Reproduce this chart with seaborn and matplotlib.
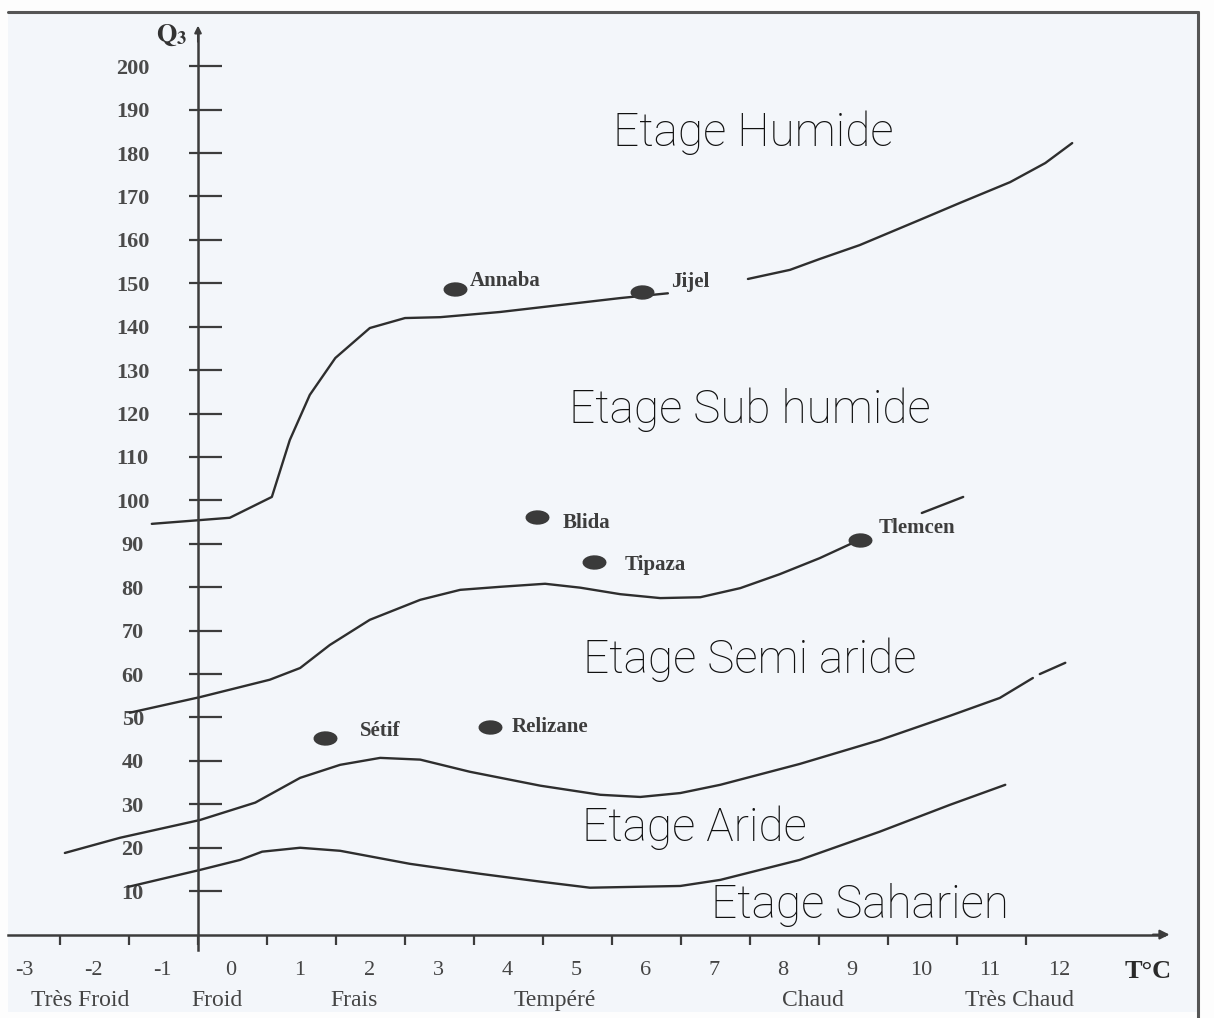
import numpy as np
import pandas as pd
import seaborn as sns
import matplotlib.pyplot as plt
from matplotlib.lines import Line2D
from matplotlib.patches import Rectangle

humide_a_m = [-0.67, 0.46, 1.07, 1.33, 1.62, 1.99, 2.49, 3.0, 3.51, 4.38, 5.25, 6.12, 6.81]
humide_a_q = [94.6, 96.0, 100.8, 113.9, 124.3, 132.8, 139.7, 142.0, 142.2, 143.4, 145.0, 146.6, 147.7]
humide_b_m = [7.97, 8.58, 9.01, 9.59, 10.46, 11.04, 11.77, 12.28, 12.67]
humide_b_q = [151.0, 153.1, 155.6, 158.8, 164.6, 168.5, 173.3, 177.7, 182.3]

subhum_a_m = [-0.99, 0.03, 1.04, 1.48, 1.91, 2.49, 3.22, 3.80, 4.38, 5.03, 5.54, 6.12, 6.70, 7.28, 7.86, 8.43, 9.01, 9.57]
subhum_a_q = [51.1, 54.7, 58.7, 61.4, 66.7, 72.5, 77.1, 79.4, 80.1, 80.8, 79.9, 78.4, 77.5, 77.7, 79.8, 83.0, 86.7, 90.8]
subhum_b_m = [10.49, 11.09]
subhum_b_q = [97.1, 100.8]

semi_a_m = [-1.93, -1.13, 0.03, 0.83, 1.48, 2.06, 2.64, 3.22, 3.94, 4.96, 5.83, 6.41, 6.99, 7.57, 8.72, 9.88, 10.90, 11.62, 12.10]
semi_a_q = [18.8, 22.3, 26.4, 30.4, 36.1, 39.1, 40.7, 40.3, 37.5, 34.3, 32.2, 31.7, 32.6, 34.5, 39.3, 44.8, 50.4, 54.5, 59.1]
semi_b_m = [12.2, 12.57]
semi_b_q = [60.0, 62.6]

aride_m = [-1.01, 0.03, 0.61, 0.93, 1.48, 2.06, 3.07, 4.09, 4.96, 5.68, 6.99, 7.57, 8.72, 9.88, 10.90, 11.70]
aride_q = [11.0, 14.9, 17.2, 19.1, 20.0, 19.3, 16.3, 14.0, 12.2, 10.8, 11.2, 12.6, 17.2, 23.7, 29.9, 34.5]

# stations
villes = ["Annaba", "Jijel", "Blida", "Tipaza", "Tlemcen", "Sétif", "Relizane"]
villes_m = [3.72, 6.43, 4.91, 5.74, 9.59, 1.84, 4.23]
villes_q = [148.7, 148.0, 96.2, 85.8, 90.9, 45.3, 47.8]
etiq_m = [3.94, 6.86, 5.28, 6.19, 9.86, 2.35, 4.55]
etiq_q = [150.5, 150.2, 94.8, 85.1, 93.6, 46.9, 47.8]

etages = ["Etage Humide", "Etage Sub humide", "Etage Semi aride", "Etage Aride", "Etage Saharien"]
etages_m = [8.04, 8.0, 8.0, 7.19, 9.6]
etages_q = [184.6, 120.8, 63.2, 24.6, 6.8]

y_ticks = list(range(10, 210, 10))
x_ticks = list(range(-2, 13))
x_labels = ["-3", "-2", "-1", "0", "1", "2", "3", "4", "5", "6", "7", "8", "9", "10", "11", "12"]
classes = ["Très Froid", "Froid", "Frais", "Tempéré", "Chaud", "Très Chaud"]
classes_m = [-1.71, 0.28, 2.26, 5.17, 8.91, 11.91]

segments = [
    (humide_a_m, humide_a_q), (humide_b_m, humide_b_q),
    (subhum_a_m, subhum_a_q), (subhum_b_m, subhum_b_q),
    (semi_a_m, semi_a_q), (semi_b_m, semi_b_q),
    (aride_m, aride_q),
]
rows = []
for i, (ms, qs) in enumerate(segments):
    for m, q in zip(ms, qs):
        rows.append({"seg": i, "m": m, "q": q})
df = pd.DataFrame(rows)
df_villes = pd.DataFrame({"ville": villes, "m": villes_m, "q": villes_q})

sns.set_style("white")
plt.rcParams["font.family"] = ["Liberation Serif", "DejaVu Serif"]

fig = plt.figure(figsize=(12.14, 10.18), dpi=100)
fig.patch.set_facecolor("#fdfdfd")
# fond du scan + cadre
fig.add_artist(Rectangle((8 / 1214, 6 / 1018), 1190 / 1214, 1000 / 1018,
                         transform=fig.transFigure, facecolor="#f3f6fa", edgecolor="none", zorder=-2))
fig.add_artist(Line2D([8 / 1214, 1198 / 1214], [1 - 12 / 1018, 1 - 12 / 1018],
                      transform=fig.transFigure, color="#555555", lw=2.2))
fig.add_artist(Line2D([1198 / 1214, 1198 / 1214], [0, 1 - 12 / 1018],
                      transform=fig.transFigure, color="#555555", lw=2.2))

ax = fig.add_axes([0, 0, 1, 1])
ax.set_facecolor("none")
ax.set_xlim(-2.870, 14.725)
ax.set_ylim(-19.21, 215.25)

ink = "#2e2e2e"
sns.lineplot(data=df, x="m", y="q", units="seg", estimator=None, sort=False,
             color=ink, lw=1.7, ax=ax, legend=False)

# marqueur en forme de tache
t = np.linspace(0, 2 * np.pi, 24)
blob = np.column_stack([np.cos(t), 0.6 * np.sin(t)])
sns.scatterplot(data=df_villes, x="m", y="q", marker=blob, s=300, color="#3a3a3a",
                edgecolor="#3a3a3a", linewidth=0, ax=ax, legend=False, zorder=4)
for name, m, q in zip(villes, etiq_m, etiq_q):
    ax.text(m, q, name, ha="left", va="center", fontsize=15, fontweight="bold", color="#3d3d3d")

# texte manuscrit des etages
for name, m, q in zip(etages, etages_m, etages_q):
    ax.text(m, q, name, ha="center", va="center", fontsize=33, color="#111111",
            family=["Roboto", "DejaVu Sans"], fontweight="light")

# axes
for s in ["top", "right"]:
    ax.spines[s].set_visible(False)
ax.spines["left"].set_position(("data", 0))
ax.spines["bottom"].set_position(("data", 0))
ax.spines["left"].set_bounds(-3.5, 208)
ax.spines["bottom"].set_bounds(-2.75, 14.0)
for s in ["left", "bottom"]:
    ax.spines[s].set_color("#3c3c3c")
    ax.spines[s].set_linewidth(1.8)
ax.annotate("", xy=(14.12, 0), xytext=(13.8, 0),
            arrowprops=dict(arrowstyle="-|>", color="#3c3c3c", lw=1.5, mutation_scale=14))
ax.annotate("", xy=(0, 210), xytext=(0, 205),
            arrowprops=dict(arrowstyle="-|>", color="#3c3c3c", lw=1.5, mutation_scale=10))

ax.set_yticks(y_ticks)
ax.set_yticks(y_ticks, minor=True)
ax.yaxis.remove_overlapping_locs = False
ax.set_yticklabels([str(v) for v in y_ticks])
ax.tick_params(axis="y", which="major", left=True, direction="in", length=17, width=1.6,
               color="#3c3c3c", pad=47, labelsize=16, labelcolor="#4a4a4a")
ax.tick_params(axis="y", which="minor", left=True, direction="out", length=6.5, width=1.6,
               color="#3c3c3c")
for lab in ax.get_yticklabels():
    lab.set_horizontalalignment("center")
    lab.set_fontweight("bold")

ax.set_xticks(x_ticks)
ax.set_xticklabels([])
ax.set_xticks([k + 0.48 for k in range(-3, 13)], minor=True)
ax.set_xticklabels(x_labels, minor=True)
ax.tick_params(axis="x", which="major", bottom=True, direction="out", length=7, width=1.6,
               color="#3c3c3c")
ax.tick_params(axis="x", which="minor", bottom=True, length=0, pad=19, labelsize=16,
               labelcolor="#444444")
ax.set_xlabel("")
ax.set_ylabel("")

for name, m in zip(classes, classes_m):
    ax.text(m, -15.1, name, ha="center", va="center", fontsize=17, color="#444444")

ax.text(-0.38, 207.2, r"$\mathbf{Q_3}$", ha="center", va="center", fontsize=19, color="#333333",
        math_fontfamily="stix")
ax.text(13.77, -8.4, "T°C", ha="center", va="center", fontsize=19, fontweight="bold", color="#2a2a2a")

fig.savefig("out.png", dpi=100)
